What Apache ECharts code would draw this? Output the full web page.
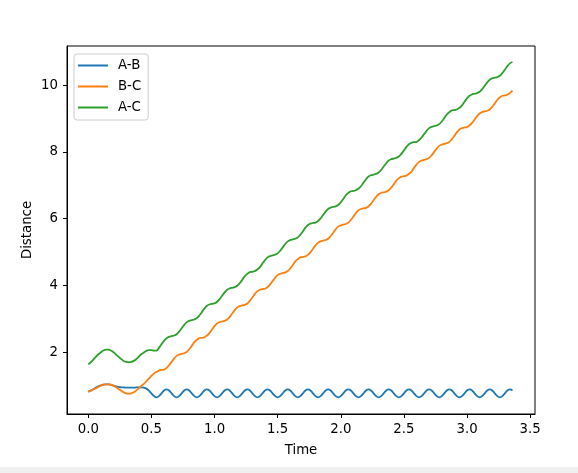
<!DOCTYPE html>
<html>
<head>
<meta charset="utf-8">
<script src="https://cdn.jsdelivr.net/npm/echarts@6/dist/echarts.min.js"></script>
<style>
  html, body { margin: 0; padding: 0; background: #fff; }
  #chart { width: 578px; height: 473px; }
</style>
</head>
<body>
<div id="chart"></div>
<script>
// time samples (s)
const time = [
  0.00, 0.02, 0.04, 0.06, 0.08, 0.10, 0.12, 0.14, 0.16, 0.18, 0.20, 0.22, 0.24, 0.26,
  0.28, 0.30, 0.32, 0.34, 0.36, 0.38, 0.40, 0.42, 0.44, 0.46, 0.48, 0.50, 0.52,
  0.54, 0.56, 0.58, 0.60, 0.62, 0.64, 0.66, 0.68,
  0.70, 0.72, 0.74, 0.76, 0.78, 0.80, 0.82, 0.84,
  0.86, 0.88, 0.90, 0.92, 0.94, 0.96, 0.98, 1.00,
  1.02, 1.04, 1.06, 1.08, 1.10, 1.12, 1.14, 1.16,
  1.18, 1.20, 1.22, 1.24, 1.26, 1.28, 1.30, 1.32,
  1.34, 1.36, 1.38, 1.40, 1.42, 1.44, 1.46, 1.48,
  1.50, 1.52, 1.54, 1.56, 1.58, 1.60, 1.62, 1.64,
  1.66, 1.68, 1.70, 1.72, 1.74, 1.76, 1.78, 1.80,
  1.82, 1.84, 1.86, 1.88, 1.90, 1.92, 1.94, 1.96,
  1.98, 2.00, 2.02, 2.04, 2.06, 2.08, 2.10, 2.12,
  2.14, 2.16, 2.18, 2.20, 2.22, 2.24, 2.26, 2.28,
  2.30, 2.32, 2.34, 2.36, 2.38, 2.40, 2.42, 2.44,
  2.46, 2.48, 2.50, 2.52, 2.54, 2.56, 2.58, 2.60,
  2.62, 2.64, 2.66, 2.68, 2.70, 2.72, 2.74, 2.76,
  2.78, 2.80, 2.82, 2.84, 2.86, 2.88, 2.90, 2.92,
  2.94, 2.96, 2.98, 3.00, 3.02, 3.04, 3.06, 3.08,
  3.10, 3.12, 3.14, 3.16, 3.18, 3.20, 3.22, 3.24,
  3.26, 3.28, 3.30, 3.32, 3.34, 3.36
];

const abDist = [
  0.82, 0.85, 0.89, 0.94, 0.98, 1.01, 1.03, 1.04, 1.04, 1.02, 1.00, 0.98, 0.96, 0.95,
  0.945, 0.94, 0.94, 0.94, 0.94, 0.945, 0.95, 0.95, 0.94, 0.91, 0.85, 0.77, 0.69,
  0.65, 0.685, 0.77, 0.855, 0.89, 0.855, 0.77, 0.685,
  0.65, 0.685, 0.77, 0.855, 0.89, 0.855, 0.77, 0.685,
  0.65, 0.685, 0.77, 0.855, 0.89, 0.855, 0.77, 0.685,
  0.65, 0.685, 0.77, 0.855, 0.89, 0.855, 0.77, 0.685,
  0.65, 0.685, 0.77, 0.855, 0.89, 0.855, 0.77, 0.685,
  0.65, 0.685, 0.77, 0.855, 0.89, 0.855, 0.77, 0.685,
  0.65, 0.685, 0.77, 0.855, 0.89, 0.855, 0.77, 0.685,
  0.65, 0.685, 0.77, 0.855, 0.89, 0.855, 0.77, 0.685,
  0.65, 0.685, 0.77, 0.855, 0.89, 0.855, 0.77, 0.685,
  0.65, 0.685, 0.77, 0.855, 0.89, 0.855, 0.77, 0.685,
  0.65, 0.685, 0.77, 0.855, 0.89, 0.855, 0.77, 0.685,
  0.65, 0.685, 0.77, 0.855, 0.89, 0.855, 0.77, 0.685,
  0.65, 0.685, 0.77, 0.855, 0.89, 0.855, 0.77, 0.685,
  0.65, 0.685, 0.77, 0.855, 0.89, 0.855, 0.77, 0.685,
  0.65, 0.685, 0.77, 0.855, 0.89, 0.855, 0.77, 0.685,
  0.65, 0.685, 0.77, 0.855, 0.89, 0.855, 0.77, 0.685,
  0.65, 0.685, 0.77, 0.855, 0.89, 0.855, 0.77, 0.685,
  0.65, 0.685, 0.77, 0.855, 0.89, 0.855
];

const bcDist = [
  0.82, 0.85, 0.89, 0.92, 0.96, 1.00, 1.03, 1.04, 1.04, 1.03, 1.00, 0.95, 0.90, 0.85,
  0.80, 0.77, 0.76, 0.77, 0.80, 0.85, 0.92, 0.99, 1.05, 1.13, 1.21, 1.29, 1.36,
  1.41, 1.45, 1.47, 1.48, 1.53, 1.61, 1.71, 1.81,
  1.89, 1.93, 1.95, 1.97, 2.01, 2.09, 2.19, 2.30,
  2.37, 2.42, 2.43, 2.45, 2.50, 2.57, 2.68, 2.78,
  2.86, 2.90, 2.92, 2.94, 2.98, 3.06, 3.16, 3.26,
  3.34, 3.38, 3.40, 3.42, 3.46, 3.54, 3.64, 3.75,
  3.83, 3.87, 3.89, 3.90, 3.95, 4.03, 4.13, 4.23,
  4.31, 4.35, 4.37, 4.39, 4.43, 4.51, 4.61, 4.72,
  4.79, 4.84, 4.85, 4.87, 4.92, 4.99, 5.10, 5.20,
  5.28, 5.32, 5.34, 5.36, 5.40, 5.48, 5.58, 5.68,
  5.76, 5.80, 5.82, 5.84, 5.88, 5.96, 6.06, 6.17,
  6.25, 6.29, 6.31, 6.32, 6.37, 6.45, 6.55, 6.65,
  6.73, 6.77, 6.79, 6.81, 6.85, 6.93, 7.03, 7.14,
  7.21, 7.26, 7.27, 7.29, 7.34, 7.41, 7.52, 7.62,
  7.70, 7.74, 7.76, 7.78, 7.82, 7.90, 8.00, 8.10,
  8.18, 8.22, 8.24, 8.26, 8.30, 8.38, 8.48, 8.59,
  8.67, 8.71, 8.73, 8.74, 8.79, 8.87, 8.97, 9.07,
  9.15, 9.19, 9.21, 9.23, 9.27, 9.35, 9.45, 9.56,
  9.63, 9.68, 9.69, 9.71, 9.76, 9.83
];

const acDist = [
  1.64, 1.70, 1.78, 1.86, 1.94, 2.00, 2.05, 2.08, 2.08, 2.05, 2.00, 1.93, 1.86, 1.80,
  1.74, 1.71, 1.70, 1.71, 1.74, 1.79, 1.87, 1.94, 1.99, 2.04, 2.06, 2.06, 2.05,
  2.05, 2.13, 2.24, 2.34, 2.42, 2.46, 2.48, 2.50,
  2.54, 2.62, 2.72, 2.82, 2.90, 2.94, 2.96, 2.98,
  3.02, 3.10, 3.20, 3.31, 3.39, 3.43, 3.45, 3.46,
  3.51, 3.59, 3.69, 3.79, 3.87, 3.91, 3.93, 3.95,
  3.99, 4.07, 4.17, 4.28, 4.35, 4.40, 4.41, 4.43,
  4.48, 4.55, 4.66, 4.76, 4.84, 4.88, 4.90, 4.92,
  4.96, 5.04, 5.14, 5.24, 5.32, 5.36, 5.38, 5.40,
  5.44, 5.52, 5.62, 5.73, 5.81, 5.85, 5.87, 5.88,
  5.93, 6.01, 6.11, 6.21, 6.29, 6.33, 6.35, 6.37,
  6.41, 6.49, 6.59, 6.70, 6.77, 6.82, 6.83, 6.85,
  6.90, 6.97, 7.08, 7.18, 7.26, 7.30, 7.32, 7.34,
  7.38, 7.46, 7.56, 7.66, 7.74, 7.78, 7.80, 7.82,
  7.86, 7.94, 8.04, 8.15, 8.23, 8.27, 8.29, 8.30,
  8.35, 8.43, 8.53, 8.63, 8.71, 8.75, 8.77, 8.79,
  8.83, 8.91, 9.01, 9.12, 9.19, 9.24, 9.25, 9.27,
  9.32, 9.39, 9.50, 9.60, 9.68, 9.72, 9.74, 9.76,
  9.80, 9.88, 9.98, 10.08, 10.16, 10.20, 10.22, 10.24,
  10.28, 10.36, 10.46, 10.57, 10.65, 10.69
];

const seriesNames = ['A-B', 'B-C', 'A-C'];
const seriesColors = ['#1f77b4', '#ff7f0e', '#2ca02c'];
const xTicks = [0.0, 0.5, 1.0, 1.5, 2.0, 2.5, 3.0, 3.5];
const yTicks = [2, 4, 6, 8, 10];

const font = 'DejaVu Sans';
const chart = echarts.init(document.getElementById('chart'), null, { renderer: 'canvas' });

function pairs(vals) {
  return time.map((t, i) => [t, vals[i]]);
}

const option = {
  animation: false,
  backgroundColor: '#fff',
  textStyle: { fontFamily: font },
  graphic: [{
    type: 'rect',
    shape: { x: 0, y: 467, width: 578, height: 6 },
    style: { fill: '#f0f0f0' },
    silent: true
  }],
  grid: {
    left: 67, right: 43, top: 46, bottom: 59,
    show: true,
    borderColor: '#000',
    borderWidth: 1,
    backgroundColor: 'transparent'
  },
  legend: {
    orient: 'vertical',
    left: 74,
    top: 54,
    icon: 'rect',
    itemWidth: 30,
    itemHeight: 2,
    itemGap: 6,
    padding: [4, 7, 5, 4],
    backgroundColor: 'rgba(255,255,255,0.8)',
    borderColor: '#cccccc',
    borderWidth: 1,
    borderRadius: 3,
    data: seriesNames,
    textStyle: {
      fontFamily: font,
      fontSize: 13.3,
      color: '#000',
      lineHeight: 15,
      padding: [0, 0, 0, 5]
    }
  },
  xAxis: {
    type: 'value',
    min: -0.1685,
    max: 3.5385,
    name: 'Time',
    nameLocation: 'middle',
    nameGap: 30,
    nameMoveOverlap: false,
    nameTextStyle: { fontFamily: font, fontSize: 13.3, color: '#000' },
    splitLine: { show: false },
    axisLine: { show: true, onZero: false, lineStyle: { color: '#000', width: 1 } },
    axisTick: {
      show: true, inside: false, length: 4,
      customValues: xTicks,
      lineStyle: { color: '#000', width: 1 }
    },
    axisLabel: {
      customValues: xTicks,
      margin: 9,
      fontFamily: font,
      fontSize: 13.3,
      color: '#000',
      formatter: v => v.toFixed(1)
    }
  },
  yAxis: {
    type: 'value',
    min: 0.15,
    max: 11.17,
    name: 'Distance',
    nameLocation: 'middle',
    nameGap: 33,
    nameMoveOverlap: false,
    nameTextStyle: { fontFamily: font, fontSize: 13.3, color: '#000' },
    splitLine: { show: false },
    axisLine: { show: true, onZero: false, lineStyle: { color: '#000', width: 1 } },
    axisTick: {
      show: true, inside: false, length: 4,
      customValues: yTicks,
      lineStyle: { color: '#000', width: 1 }
    },
    axisLabel: {
      customValues: yTicks,
      margin: 9,
      fontFamily: font,
      fontSize: 13.3,
      color: '#000',
      formatter: v => String(Math.round(v))
    }
  },
  series: [abDist, bcDist, acDist].map((vals, i) => ({
    name: seriesNames[i],
    type: 'line',
    data: pairs(vals),
    showSymbol: false,
    smooth: 0.4,
    color: seriesColors[i],
    lineStyle: { color: seriesColors[i], width: 1.8 },
    emphasis: { disabled: true }
  }))
};

chart.setOption(option);
</script>
</body>
</html>
